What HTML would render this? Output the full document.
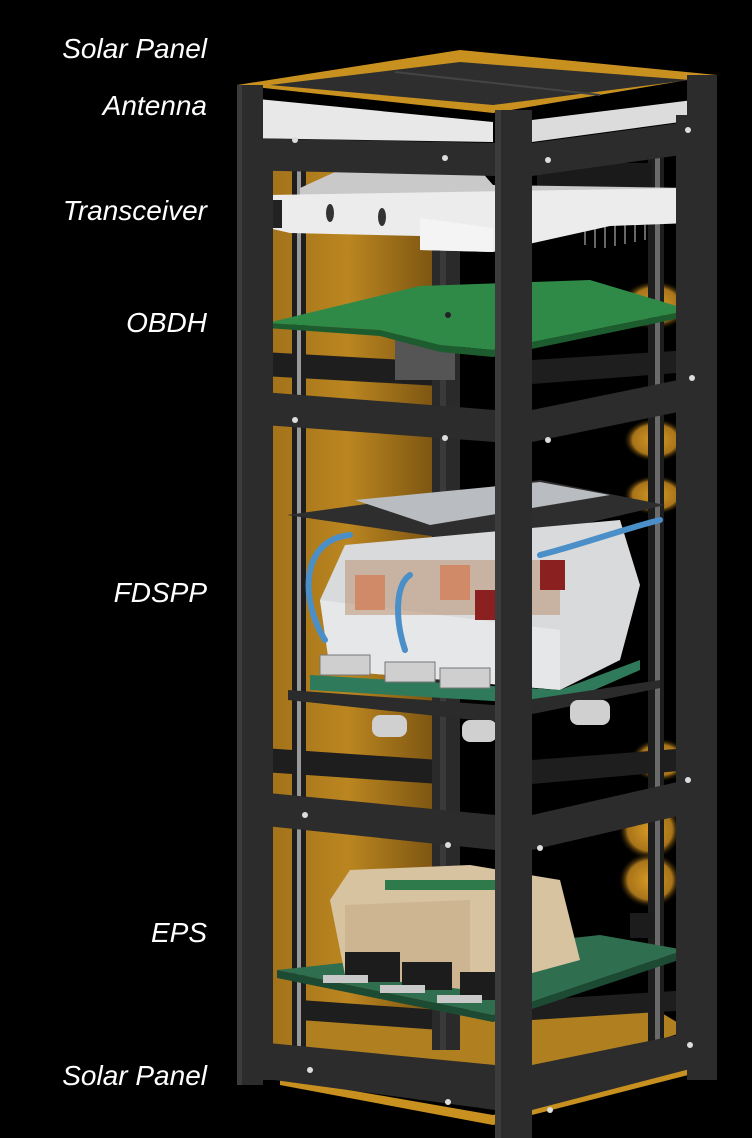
<!DOCTYPE html>
<html><head><meta charset="utf-8"><style>
html,body{margin:0;padding:0;background:#000;}
svg{display:block}
text{font-family:"Liberation Sans",sans-serif;font-style:italic;fill:#fff;font-size:28px;}
</style></head><body>
<svg width="752" height="1138" viewBox="0 0 752 1138" xmlns="http://www.w3.org/2000/svg">
<defs>
<linearGradient id="gold" x1="0" x2="1" y1="0" y2="0">
<stop offset="0" stop-color="#a0701a"/><stop offset="0.5" stop-color="#bb8620"/><stop offset="1" stop-color="#7e5612"/>
</linearGradient>
<radialGradient id="blob" cx="0.5" cy="0.5" r="0.5">
<stop offset="0" stop-color="#d69a24"/><stop offset="0.7" stop-color="#a8741a"/><stop offset="1" stop-color="#000" stop-opacity="0"/>
</radialGradient>
</defs>
<rect width="752" height="1138" fill="#000"/>

<text x="207" y="58" text-anchor="end">Solar Panel</text>
<text x="207" y="115" text-anchor="end">Antenna</text>
<text x="207" y="220" text-anchor="end">Transceiver</text>
<text x="207" y="332" text-anchor="end">OBDH</text>
<text x="207" y="602" text-anchor="end">FDSPP</text>
<text x="207" y="942" text-anchor="end">EPS</text>
<text x="207" y="1085" text-anchor="end">Solar Panel</text>

<rect x="263" y="150" width="170" height="910" fill="url(#gold)"/>
<polygon points="300,1020 640,1000 690,1030 520,1085 300,1065" fill="#b08020"/>
<ellipse cx="655" cy="305" rx="35" ry="25" fill="url(#blob)"/>
<ellipse cx="655" cy="440" rx="32" ry="22" fill="url(#blob)"/>
<ellipse cx="655" cy="495" rx="32" ry="20" fill="url(#blob)"/>
<ellipse cx="660" cy="760" rx="30" ry="22" fill="url(#blob)"/>
<ellipse cx="650" cy="830" rx="32" ry="30" fill="url(#blob)"/>
<ellipse cx="650" cy="880" rx="32" ry="28" fill="url(#blob)"/>

<g fill="#1e1e1e">
<rect x="292" y="150" width="14" height="900"/>
<rect x="648" y="150" width="16" height="900"/>
<polygon points="263,352 440,362 440,386 263,376"/>
<polygon points="263,748 440,760 440,784 263,772"/>
<polygon points="300,1000 440,1010 440,1030 300,1020"/>
<polygon points="532,360 690,350 690,372 532,384"/>
<polygon points="532,760 690,748 690,770 532,784"/>
<polygon points="532,1000 690,990 690,1010 532,1020"/>
</g>
<rect x="297" y="150" width="4" height="900" fill="#9a9a9a"/>
<rect x="655" y="150" width="5" height="900" fill="#6a6a6a"/>
<rect x="432" y="250" width="28" height="800" fill="#2a2a2a"/>
<rect x="440" y="250" width="6" height="800" fill="#3a3a3a"/>

<rect x="537" y="163" width="115" height="25" fill="#1a1a1a"/>
<g stroke="#888" stroke-width="1.5"><line x1="585" y1="225" x2="585" y2="245"/><line x1="595" y1="225" x2="595" y2="248"/><line x1="605" y1="225" x2="605" y2="248"/><line x1="615" y1="225" x2="615" y2="246"/><line x1="625" y1="225" x2="625" y2="244"/><line x1="635" y1="225" x2="635" y2="242"/><line x1="645" y1="225" x2="645" y2="240"/></g>
<polygon points="300,188 335,172 480,170 493,185 690,188 690,198 300,200" fill="#c9c9c9"/>
<polygon points="268,195 690,188 690,223 610,226 493,252 420,250 420,236 290,233 268,228" fill="#ececec"/>
<polygon points="420,218 493,228 493,252 420,250" fill="#f4f4f4"/>
<rect x="268" y="200" width="14" height="28" fill="#222"/>
<ellipse cx="330" cy="213" rx="4" ry="9" fill="#333"/>
<ellipse cx="382" cy="217" rx="4" ry="9" fill="#333"/>

<rect x="395" y="335" width="60" height="45" fill="#555"/>
<polygon points="267,323 420,286 590,280 690,310 493,350 440,345 380,330" fill="#2f8a48"/>
<polygon points="267,323 380,330 440,345 493,350 690,310 690,316 493,357 440,352 380,336 267,328" fill="#1d5c2e"/>
<circle cx="448" cy="315" r="3" fill="#222"/>

<polygon points="287,515 540,480 665,505 493,545" fill="#2e2e2e"/>
<polygon points="355,500 540,482 610,495 430,525" fill="#b9bcc0"/>
<polygon points="320,600 345,545 620,520 640,585 620,660 560,690 330,670" fill="#d8dadc"/>
<polygon points="320,600 560,630 560,690 330,670" fill="#e6e7e8"/>
<rect x="345" y="560" width="215" height="55" fill="#b88c6a" opacity="0.5"/>
<rect x="355" y="575" width="30" height="35" fill="#d08a68"/>
<rect x="440" y="565" width="30" height="35" fill="#d08a68"/>
<rect x="540" y="560" width="25" height="30" fill="#8a2020"/>
<rect x="475" y="590" width="22" height="30" fill="#8a2020"/>
<polygon points="310,675 560,690 640,660 640,670 560,705 310,690" fill="#2f7a5a"/>
<g fill="#cfcfcf" stroke="#777" stroke-width="1"><rect x="320" y="655" width="50" height="20"/><rect x="385" y="662" width="50" height="20"/><rect x="440" y="668" width="50" height="20"/></g>
<polygon points="288,690 493,705 660,680 660,688 493,722 288,700" fill="#2b2b2b"/>
<rect x="372" y="715" width="35" height="22" rx="8" fill="#d0d0d0"/>
<rect x="462" y="720" width="35" height="22" rx="8" fill="#d0d0d0"/>
<rect x="570" y="700" width="40" height="25" rx="8" fill="#d0d0d0"/>
<g fill="none" stroke="#4a8fc8" stroke-width="6" stroke-linecap="round">
<path d="M350,535 C300,540 300,600 325,640"/>
<path d="M410,575 C395,585 395,620 405,650"/>
<path d="M540,555 C580,545 620,530 660,520"/>
</g>

<polygon points="277,970 600,935 685,950 493,1015" fill="#2f6e4e"/>
<polygon points="277,970 493,1015 685,950 685,958 493,1022 277,978" fill="#1d4a33"/>
<polygon points="330,900 350,870 470,865 560,880 580,960 470,990 345,975" fill="#d8c3a0"/>
<polygon points="345,905 470,900 470,990 345,975" fill="#cdb591"/>
<rect x="385" y="880" width="110" height="10" fill="#2f7a4a"/>
<g fill="#1c1c1c"><rect x="345" y="952" width="55" height="30"/><rect x="402" y="962" width="50" height="28"/><rect x="460" y="972" width="35" height="28"/><rect x="630" y="913" width="25" height="25"/></g>
<g fill="#c9c9c9"><rect x="323" y="975" width="45" height="8"/><rect x="380" y="985" width="45" height="8"/><rect x="437" y="995" width="45" height="8"/></g>

<polygon points="280,1078 493,1115 700,1065 700,1072 493,1125 280,1085" fill="#c8901f"/>

<polygon points="237,85 460,50 717,75 493,113" fill="#c8901f"/>
<polygon points="270,85 460,62 690,80 493,105" fill="#2e2e2e"/>
<line x1="395" y1="72" x2="600" y2="95" stroke="#444" stroke-width="2"/>
<polygon points="237,97 493,122 493,142 237,138" fill="#e8e8e8"/>
<polygon points="532,120 717,97 717,117 532,142" fill="#dcdcdc"/>

<g fill="#2c2c2c">
<rect x="237" y="85" width="26" height="1000"/>
<rect x="495" y="110" width="37" height="1028"/>
<rect x="687" y="75" width="30" height="1005"/>
<polygon points="237,138 495,143 495,176 237,170"/>
<polygon points="532,143 717,118 717,150 532,176"/>
<polygon points="237,390 495,410 495,442 237,423"/>
<polygon points="532,410 717,372 717,404 532,442"/>
<polygon points="237,790 495,815 495,850 237,823"/>
<polygon points="532,815 717,773 717,807 532,850"/>
<polygon points="237,1040 495,1065 495,1110 237,1075"/>
<polygon points="532,1065 717,1027 717,1062 532,1110"/>
<rect x="263" y="150" width="10" height="930"/>
<rect x="676" y="115" width="11" height="950"/>
</g>
<g fill="#3c3c3c">
<rect x="495" y="110" width="6" height="1028"/>
<rect x="237" y="85" width="5" height="1000"/>
</g>
<g fill="#ddd">
<circle cx="295" cy="140" r="3"/><circle cx="445" cy="158" r="3"/><circle cx="548" cy="160" r="3"/><circle cx="688" cy="130" r="3"/>
<circle cx="295" cy="420" r="3"/><circle cx="445" cy="438" r="3"/><circle cx="548" cy="440" r="3"/><circle cx="692" cy="378" r="3"/>
<circle cx="305" cy="815" r="3"/><circle cx="448" cy="845" r="3"/><circle cx="540" cy="848" r="3"/><circle cx="688" cy="780" r="3"/>
<circle cx="310" cy="1070" r="3"/><circle cx="448" cy="1102" r="3"/><circle cx="550" cy="1110" r="3"/><circle cx="690" cy="1045" r="3"/>
</g>
</svg>
</body></html>
